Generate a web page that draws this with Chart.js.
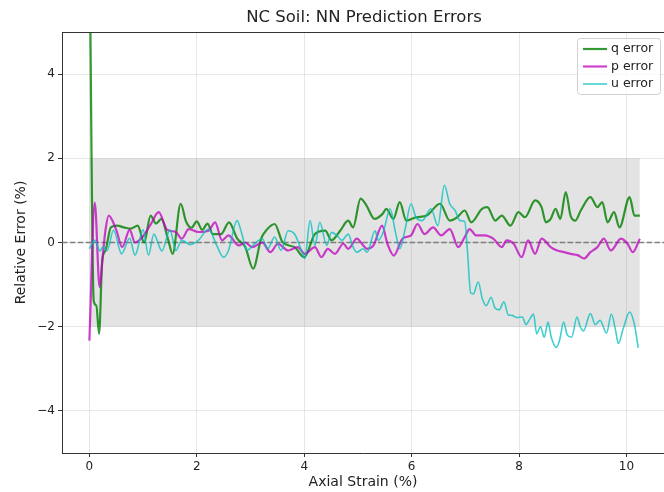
<!DOCTYPE html>
<html>
<head>
<meta charset="utf-8">
<script src="https://cdn.jsdelivr.net/npm/chart.js@4/dist/chart.umd.min.js"></script>
<style>
  html, body { margin: 0; padding: 0; background: #fff; overflow: hidden; }
</style>
</head>
<body>
<canvas id="err-chart" width="664" height="492"></canvas>
<script>
// Series (axial strain in %, relative error in %)
const qStrain = [0, 0.08, 0.13, 0.18, 0.24, 0.3, 0.4, 0.52, 0.64, 0.77, 0.9, 1.02, 1.14, 1.24, 1.34, 1.46, 1.55, 1.7, 1.8, 1.9,
  2.0, 2.1, 2.2, 2.3, 2.45, 2.6, 2.75, 2.9, 3.05, 3.2, 3.3, 3.45, 3.6, 3.82, 4.0, 4.2, 4.39, 4.51, 4.67, 4.82,
  4.91, 5.05, 5.15, 5.31, 5.46, 5.53, 5.66, 5.78, 5.9, 6.09, 6.28, 6.53, 6.71, 6.85, 6.99, 7.11, 7.31, 7.41, 7.56, 7.68,
  7.84, 7.99, 8.11, 8.3, 8.42, 8.5, 8.59, 8.68, 8.77, 8.87, 8.96, 9.05, 9.15, 9.33, 9.46, 9.55, 9.65, 9.77, 9.87, 10.06,
  10.15, 10.25];
const qError = [7.5, -1.38, -1.5, -2.17, -0.42, -0.19, 0.36, 0.4, 0.36, 0.33, 0.4, 0.0, 0.64, 0.45, 0.56, 0.1, -0.27, 0.92, 0.5, 0.35,
  0.5, 0.3, 0.45, 0.2, 0.2, 0.48, 0.1, -0.1, -0.62, 0.1, 0.3, 0.44, 0.0, -0.11, -0.35, 0.2, 0.28, 0.05, 0.28, 0.52,
  0.36, 1.04, 0.9, 0.56, 0.68, 0.8, 0.56, 0.96, 0.52, 0.6, 0.64, 0.92, 0.52, 0.6, 0.76, 0.48, 0.8, 0.84, 0.52, 0.64,
  0.4, 0.72, 0.6, 1.0, 0.84, 0.48, 0.56, 0.8, 0.56, 1.2, 0.64, 0.52, 0.76, 1.08, 0.84, 0.96, 0.48, 0.72, 0.36, 1.08,
  0.64, 0.64];

const pStrain = [0, 0.1, 0.19, 0.25, 0.3, 0.36, 0.5, 0.61, 0.75, 0.85, 1.0, 1.15, 1.29, 1.45, 1.61, 1.72, 1.85, 2.03, 2.22, 2.34,
  2.47, 2.59, 2.78, 2.9, 3.03, 3.22, 3.37, 3.51, 3.7, 3.88, 4.01, 4.2, 4.32, 4.44, 4.57, 4.73, 4.82, 4.98, 5.1, 5.17,
  5.29, 5.45, 5.55, 5.67, 5.83, 5.99, 6.11, 6.24, 6.4, 6.55, 6.71, 6.87, 6.99, 7.08, 7.2, 7.36, 7.52, 7.68, 7.77, 7.9,
  8.05, 8.17, 8.3, 8.42, 8.59, 8.71, 8.84, 8.96, 9.09, 9.21, 9.33, 9.46, 9.58, 9.71, 9.9, 10.02, 10.12, 10.25];
const pError = [-2.33, 0.95, -1.06, -0.3, 0.3, 0.64, 0.3, -0.11, 0.3, 0.0, 0.15, 0.45, 0.72, 0.3, 0.25, 0.09, 0.32, 0.25, 0.28, 0.48,
  0.05, 0.17, -0.07, 0.0, -0.11, 0.0, -0.23, -0.03, -0.19, -0.11, -0.27, -0.11, -0.35, -0.15, -0.27, -0.03, -0.15, 0.09, -0.07, -0.15,
  -0.07, 0.4, -0.03, -0.31, 0.09, 0.17, 0.44, 0.2, 0.36, 0.17, 0.32, -0.11, 0.13, 0.32, 0.17, 0.17, 0.09, -0.11, 0.05, -0.03,
  -0.35, 0.05, -0.27, 0.09, -0.11, -0.19, -0.23, -0.27, -0.3, -0.38, -0.23, -0.11, 0.09, -0.19, 0.09, -0.03, -0.23, 0.09];

const uStrain = [0, 0.1, 0.2, 0.25, 0.33, 0.45, 0.6, 0.75, 0.85, 1.0, 1.1, 1.2, 1.35, 1.5, 1.61, 1.72, 1.88, 2.03, 2.22, 2.37,
  2.5, 2.59, 2.75, 2.84, 2.93, 3.1, 3.22, 3.32, 3.45, 3.57, 3.7, 3.82, 3.95, 4.01, 4.11, 4.2, 4.29, 4.42, 4.51, 4.61,
  4.7, 4.82, 4.91, 4.98, 5.1, 5.17, 5.32, 5.38, 5.48, 5.6, 5.7, 5.78, 5.88, 5.99, 6.08, 6.2, 6.36, 6.49, 6.61, 6.71,
  6.81, 6.9, 6.99, 7.04, 7.1, 7.15, 7.24, 7.32, 7.39, 7.48, 7.55, 7.63, 7.72, 7.8, 7.87, 7.95, 8.06, 8.13, 8.2, 8.27,
  8.33, 8.4, 8.47, 8.54, 8.6, 8.7, 8.76, 8.83, 8.9, 8.98, 9.08, 9.14, 9.2, 9.33, 9.42, 9.51, 9.63, 9.72, 9.8, 9.85,
  9.94, 10.06, 10.15, 10.22];
const uError = [-0.15, 0.05, -0.2, -0.1, -0.19, 0.29, -0.27, 0.1, -0.3, 0.3, -0.3, 0.2, -0.2, 0.3, -0.19, 0.05, -0.05, 0.05, 0.32, -0.07,
  -0.35, -0.19, 0.52, 0.2, -0.19, 0.0, 0.09, -0.15, 0.13, -0.19, 0.28, 0.2, -0.19, -0.38, 0.52, -0.07, 0.48, -0.07, 0.24, 0.17,
  0.05, 0.2, -0.11, -0.23, -0.15, -0.23, 0.28, 0.05, 0.28, 0.8, 0.24, -0.15, 0.32, 0.92, 0.6, 0.52, 0.8, 0.4, 1.36, 0.92,
  0.76, 0.52, 0.5, -0.2, -1.2, -1.22, -0.94, -1.35, -1.5, -1.3, -1.55, -1.6, -1.41, -1.72, -1.73, -1.78, -1.77, -1.95, -1.82, -1.7,
  -2.17, -2.0, -2.25, -1.89, -2.25, -2.49, -2.3, -1.89, -2.2, -2.25, -1.77, -2.0, -2.1, -1.69, -1.95, -1.85, -2.15, -1.7, -2.1, -2.4,
  -2.05, -1.65, -1.95, -2.5];

// tolerance band and axis ticks
const bandStrain = [0, 10.25];
const bandLimit = 2;
const xTicks = [0, 2, 4, 6, 8, 10];
const yTicks = [-4, -2, 0, 2, 4];

const FONT = 'DejaVu Sans';

function toPoints(xs, ys) {
    return xs.map((x, i) => ({ x: x, y: ys[i] }));
}

function minusSign(v) {
    return v < 0 ? '\u2212' + Math.abs(v) : String(v);
}

// title centred over the axes, top spine, and the boxed legend
const decorations = {
    id: 'decorations',
    afterDatasetsDraw(chart) {
        const { ctx, chartArea } = chart;
        ctx.save();
        ctx.strokeStyle = '#333';
        ctx.lineWidth = 1;
        ctx.beginPath();
        ctx.moveTo(chartArea.left, chartArea.top + 0.5);
        ctx.lineTo(chartArea.right, chartArea.top + 0.5);
        ctx.stroke();

        // legend box
        const bx = chartArea.right - 87, by = chartArea.top + 6, bw = 83, bh = 56;
        ctx.beginPath();
        ctx.roundRect(bx + 0.5, by + 0.5, bw, bh, 3);
        ctx.fillStyle = 'rgba(255,255,255,0.8)';
        ctx.fill();
        ctx.strokeStyle = '#d0d0d0';
        ctx.stroke();

        const rows = chart.data.datasets.filter(d => d.inLegend);
        ctx.font = '12.5px "' + FONT + '"';
        ctx.textBaseline = 'middle';
        ctx.textAlign = 'left';
        rows.forEach((d, i) => {
            const y = by + 11 + i * 17.5;
            ctx.strokeStyle = d.borderColor;
            ctx.lineWidth = d.borderWidth;
            ctx.beginPath();
            ctx.moveTo(bx + 6, y);
            ctx.lineTo(bx + 30, y);
            ctx.stroke();
            ctx.fillStyle = '#222';
            ctx.fillText(d.label, bx + 34, y);
        });
        ctx.restore();
    },
    afterDraw(chart) {
        const { ctx, chartArea } = chart;
        ctx.save();
        ctx.font = '16.5px "' + FONT + '"';
        ctx.fillStyle = '#222';
        ctx.textAlign = 'center';
        ctx.textBaseline = 'middle';
        ctx.fillText('NC Soil: NN Prediction Errors', (chartArea.left + chartArea.right) / 2 + 1, 18);
        ctx.restore();
    }
};

const ctx = document.getElementById('err-chart').getContext('2d');
new Chart(ctx, {
    type: 'line',
    data: {
        datasets: [
            {
                label: 'band',
                data: toPoints(bandStrain, [bandLimit, bandLimit]),
                borderWidth: 0,
                backgroundColor: 'rgba(128,128,128,0.22)',
                fill: { value: -bandLimit },
                tension: 0,
                order: 10
            },
            {
                label: 'zero',
                data: toPoints([-0.51, 10.7], [0, 0]),
                borderColor: 'rgba(110,110,110,0.85)',
                borderWidth: 1.4,
                borderDash: [5.5, 2.4],
                tension: 0,
                order: 9
            },
            {
                label: 'q error',
                inLegend: true,
                data: toPoints(qStrain, qError),
                borderColor: 'rgba(0,128,0,0.8)',
                borderWidth: 2.2,
                order: 3
            },
            {
                label: 'p error',
                inLegend: true,
                data: toPoints(pStrain, pError),
                borderColor: 'rgba(191,0,191,0.75)',
                borderWidth: 2.2,
                order: 2
            },
            {
                label: 'u error',
                inLegend: true,
                data: toPoints(uStrain, uError),
                borderColor: 'rgba(0,191,191,0.75)',
                borderWidth: 1.6,
                order: 1
            }
        ]
    },
    options: {
        responsive: false,
        animation: false,
        layout: { padding: { top: 32, left: 0, right: 0, bottom: 0 } },
        elements: {
            point: { radius: 0 },
            line: { cubicInterpolationMode: 'monotone', fill: false }
        },
        plugins: {
            legend: { display: false },
            tooltip: { enabled: false },
            title: { display: false }
        },
        scales: {
            x: {
                type: 'linear',
                min: -0.51,
                max: 10.7,
                afterBuildTicks: s => { s.ticks = xTicks.map(v => ({ value: v })); },
                afterFit: s => { s.height = 39; },
                grid: { color: 'rgba(176,176,176,0.3)', tickColor: '#333', tickLength: 4 },
                border: { color: '#333', width: 1 },
                ticks: { color: '#222', font: { family: FONT, size: 12 }, padding: 3, maxRotation: 0 },
                title: {
                    display: true, text: 'Axial Strain (%)', color: '#222',
                    font: { family: FONT, size: 14 }, padding: { top: 0, bottom: 1 }
                }
            },
            y: {
                min: -5,
                max: 5,
                afterBuildTicks: s => { s.ticks = yTicks.map(v => ({ value: v })); },
                afterFit: s => { s.width = 62; },
                grid: { color: 'rgba(176,176,176,0.3)', tickColor: '#333', tickLength: 4 },
                border: { color: '#333', width: 1 },
                ticks: { color: '#222', font: { family: FONT, size: 12 }, padding: 3, callback: minusSign },
                title: {
                    display: true, text: 'Relative Error (%)', color: '#222',
                    font: { family: FONT, size: 14 }, padding: { top: 13, bottom: 0 }
                }
            }
        }
    },
    plugins: [decorations]
});
</script>
</body>
</html>
